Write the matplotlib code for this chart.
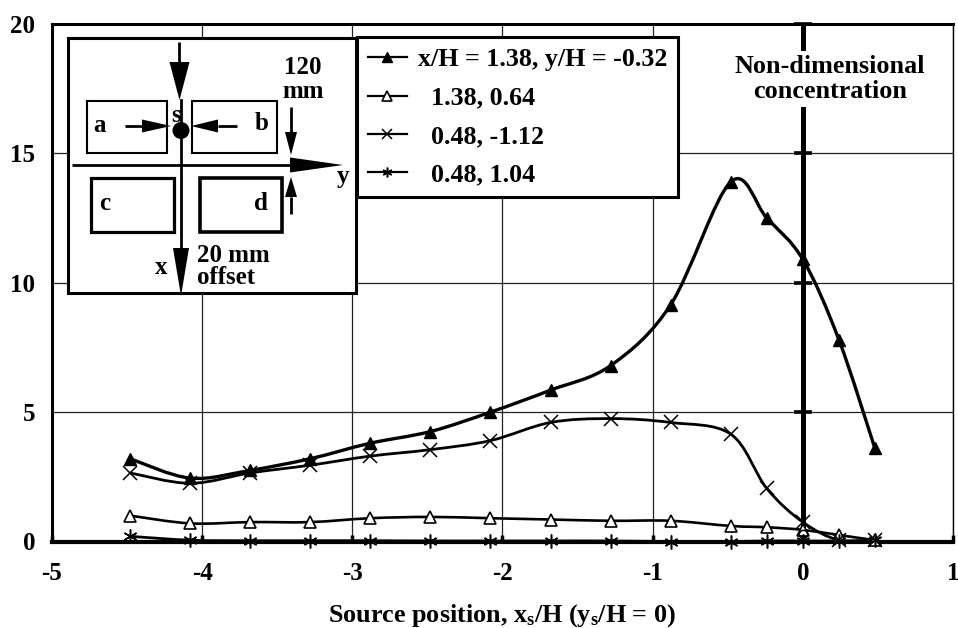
import numpy as np
import matplotlib
matplotlib.use("Agg")
import matplotlib.pyplot as plt
from matplotlib.path import Path
from matplotlib.patches import PathPatch, Rectangle, Polygon, Circle
from matplotlib.lines import Line2D

plt.rcParams['font.family'] = ['Liberation Serif', 'DejaVu Serif']
plt.rcParams['font.weight'] = 'bold'
plt.rcParams['axes.unicode_minus'] = False

source_x = [-4.48, -4.08, -3.68, -3.28, -2.88, -2.48, -2.08, -1.68, -1.28, -0.88, -0.48, -0.24, 0.0, 0.24, 0.48]
series_a = [3.2, 2.45, 2.75, 3.2, 3.8, 4.25, 5.0, 5.85, 6.8, 9.15, 13.9, 12.5, 10.9, 7.8, 3.6]
series_b = [1.0, 0.7, 0.75, 0.75, 0.9, 0.95, 0.9, 0.85, 0.8, 0.8, 0.6, 0.55, 0.45, 0.25, 0.05]
series_c = [2.65, 2.25, 2.65, 2.95, 3.3, 3.55, 3.9, 4.6, 4.75, 4.6, 4.15, 2.05, 0.75, 0.05, 0.05]
series_d = [0.2, 0.05, 0.03, 0.03, 0.03, 0.02, 0.02, 0.02, 0.02, 0.0, 0.0, 0.02, 0.02, 0.02, 0.05]
extra_x = [0.0]
extra_y = [0.28]
labels = ['x/H = 1.38, y/H = -0.32', '  1.38, 0.64', '  0.48, -1.12', '  0.48, 1.04']
x_ticks = [-5, -4, -3, -2, -1, 0, 1]
y_ticks = [0, 5, 10, 15, 20]

W, H = 958, 628
fig = plt.figure(figsize=(W / 100, H / 100), dpi=100, facecolor='white')
L, R, T, B = 52, 953, 24, 541.5
ax = fig.add_axes([L / W, 1 - B / H, (R - L) / W, (B - T) / H])
ax.set_xlim(-5, 1)
ax.set_ylim(0, 20)
ax.set_xticks(x_ticks)
ax.set_yticks(y_ticks)
ax.grid(True, color='#222222', lw=0.9, zorder=0)
ax.set_axisbelow(True)
ax.tick_params(axis='x', direction='in', length=5, width=2.5, pad=15, labelsize=18)
ax.tick_params(axis='y', length=0, pad=12, labelsize=18)
for lab in ax.get_xticklabels() + ax.get_yticklabels():
    lab.set_fontweight('bold')
ax.spines['left'].set_linewidth(2.2)
ax.spines['bottom'].set_linewidth(3.0)
ax.spines['top'].set_linewidth(2.2)
ax.spines['right'].set_linewidth(1.0)
ax.set_xlabel(r'Source position, x$\mathregular{_s}$/H (y$\mathregular{_s}$/H = 0)',
              fontsize=18.8, fontweight='bold', labelpad=12)


def smooth(xs, ys):
    """Bezier path through the points (Catmull-Rom tangents)."""
    p = np.column_stack([xs, ys])
    t = np.zeros_like(p)
    t[1:-1] = (p[2:] - p[:-2]) / 6
    t[0] = (p[1] - p[0]) / 6
    t[-1] = (p[-1] - p[-2]) / 6
    verts = [p[0]]
    codes = [Path.MOVETO]
    for i in range(len(p) - 1):
        verts += [p[i] + t[i], p[i + 1] - t[i + 1], p[i + 1]]
        codes += [Path.CURVE4] * 3
    return Path(verts, codes)


styles = [
    (series_a, dict(marker='^', mfc='black', mec='black', ms=8.5, mew=1.0), 2.4),
    (series_b, dict(marker='^', mfc='white', mec='black', ms=9, mew=1.2), 1.9),
    (series_c, dict(marker='x', mfc='none', mec='black', ms=10, mew=1.1), 2.0),
    (series_d, dict(marker=(6, 2, 0), mfc='none', mec='black', ms=10, mew=1.1), 2.0),
]
# central concentration axis
ax.axvline(0, color='black', lw=3.6, zorder=2)
ax.plot([0, 0, 0, 0], [5, 10, 15, 20], ls='none', marker='_', ms=13, mew=2.6, color='black', zorder=2, clip_on=False)

handles = []
for ser, mk, lw in styles:
    ax.add_patch(PathPatch(smooth(source_x, ser), fc='none', ec='black', lw=lw, zorder=3, clip_on=False, capstyle='round'))
    ax.plot(source_x, ser, ls='none', zorder=4, clip_on=False, **mk)
    m2 = dict(mk)
    m2['ms'] = 7
    handles.append(Line2D([], [], color='black', lw=1.6, **m2))
ax.plot(extra_x, extra_y, ls='none', marker='o', mfc='none', mec='black', ms=6, mew=1.1, zorder=4)

# overlay axes in pixel units for the inset diagram
ov = fig.add_axes([0, 0, 1, 1], facecolor='none', zorder=5)
ov.set_xlim(0, W)
ov.set_ylim(H, 0)
ov.axis('off')

ov.text(830, 79, 'Non-dimensional\nconcentration', ha='center', va='center', fontsize=18.8, fontweight='bold',
        linespacing=1.1, bbox=dict(fc='white', ec='none', pad=3))

ov.add_patch(Rectangle((68, 38), 288, 255, fc='white', ec='black', lw=2.2, zorder=1))


def arrow(x0, y0, x1, y1, hl, hw, lw=2.0):
    d = np.array([x1 - x0, y1 - y0], float)
    d /= np.hypot(*d)
    n = np.array([-d[1], d[0]])
    tip = np.array([x1, y1], float)
    base = tip - d * hl
    ov.plot([x0, base[0]], [y0, base[1]], color='black', lw=lw, zorder=3, solid_capstyle='butt')
    ov.add_patch(Polygon([tip, base + n * hw / 2, base - n * hw / 2], fc='black', ec='none', zorder=3))


for (x, y, w, h, lw) in [(87, 101, 80, 52, 1.5), (192, 101, 85, 52, 1.5), (91, 178, 83, 54, 2.3), (200, 178, 82, 54, 2.6)]:
    ov.add_patch(Rectangle((x, y), w, h, fc='white', ec='black', lw=lw, zorder=2))

ov.plot([181, 181], [100, 260], color='black', lw=2.0, zorder=3)
arrow(179.5, 42, 179.5, 100, 38, 20)
arrow(181, 250, 181, 296, 48, 16)
arrow(72, 165, 343, 165, 53, 15)
arrow(125, 126, 171, 126, 29, 13)
arrow(237, 126, 191, 126, 27, 13)
arrow(291, 107, 291, 155, 23, 12)
arrow(291, 214, 291, 177, 20, 12)
ov.add_patch(Circle((181, 130.5), 8.5, fc='black', ec='none', zorder=4))

tk = dict(fontsize=18, fontweight='bold', ha='center', va='center', zorder=5)
ov.text(100, 125, 'a', **tk)
ov.text(262, 124, 'b', **tk)
ov.text(105, 203, 'c', **tk)
ov.text(261, 203, 'd', **tk)
ov.text(176, 115, 's', **tk)
ov.text(343, 176, 'y', **tk)
ov.text(161, 268, 'x', **tk)
ov.text(303, 79.5, '120\nmm', linespacing=1.05, **tk)
ov.text(197, 266.5, '20 mm\noffset', fontsize=18, fontweight='bold', ha='left', va='center', linespacing=1.0, zorder=5)

leg = ov.legend(handles, labels, loc='upper left', bbox_to_anchor=(356.5 / W, 1 - 37 / H),
                bbox_transform=fig.transFigure, frameon=True, fancybox=False, framealpha=1,
                edgecolor='black', facecolor='white', handlelength=1.5,
                handletextpad=0.42, labelspacing=0.58, borderpad=0.43, borderaxespad=0,
                prop={'weight': 'bold', 'size': 18.7})
leg.get_frame().set_linewidth(2.2)
leg.set_zorder(6)

fig.savefig('out.png', dpi=100)
